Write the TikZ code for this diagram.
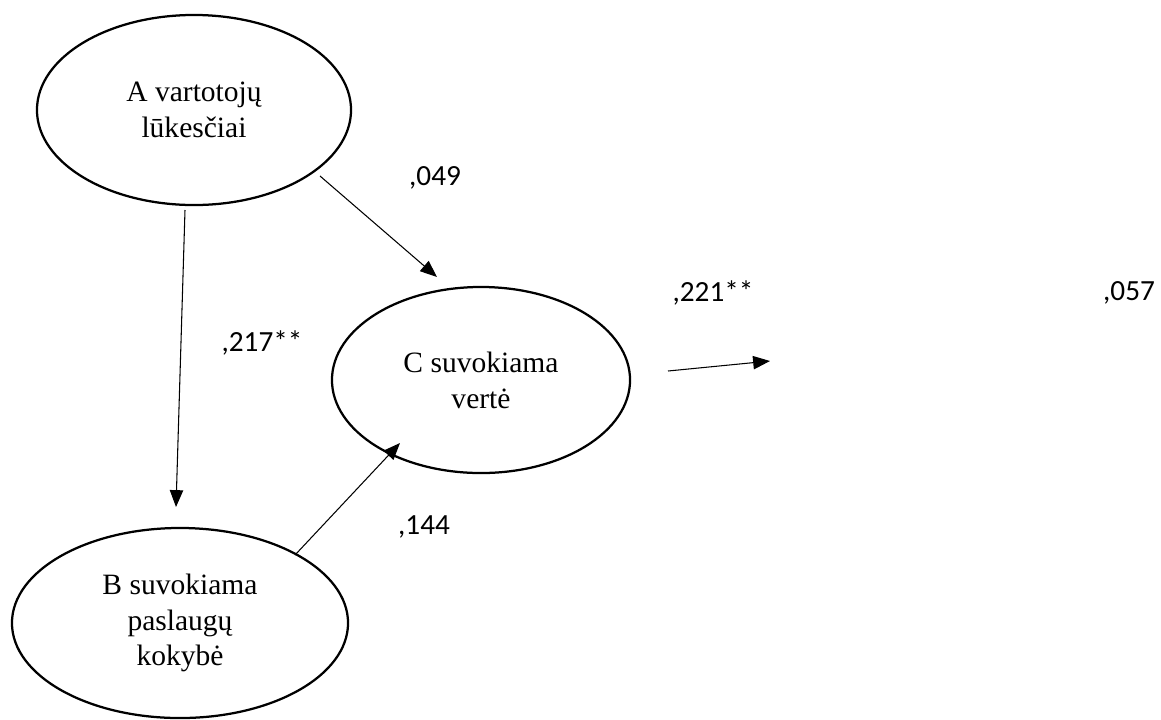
\documentclass[tikz,border=0pt]{standalone}
\usepackage{fontspec}
\setmainfont{Liberation Serif}
\newfontfamily\calfont{Carlito}
\usetikzlibrary{calc,shapes.geometric,arrows.meta}

\tikzset{
	latent/.style={draw, ellipse, line width=1.6pt, inner sep=0pt, align=center, font=\fontsize{21}{25.5}\selectfont},
	coef/.style={font=\calfont\fontsize{20.8}{23}\selectfont, inner sep=0pt},
	path/.style={line width=0.75pt, -{Triangle[length=12pt, width=9.5pt]}}
}

\begin{document}
\begin{tikzpicture}[x=0.025cm, y=-0.025cm]
			%%%%% START %%%%%
			
			\useasboundingbox (0, 0) rectangle (1161, 719);
			
			\node[latent, minimum width=7.85cm, minimum height=4.75cm] (A) at (194, 110) {A vartotojų\\lūkesčiai};
			\node[latent, minimum width=7.45cm, minimum height=4.65cm] (C) at (481, 380) {C suvokiama\\vertė};
			\node[latent, minimum width=8.4cm, minimum height=4.75cm] (B) at (180, 623) {B suvokiama\\paslaugų\\kokybė};
			
			\coordinate (out) at (770, 361);
			
			\node[coef] (l049) at (435, 178) {,049};
			\node[coef] (l217) at (262, 343) {,217**};
			\node[coef] (l144) at (424, 527) {,144};
			\node[coef] (l221) at (713, 293) {,221**};
			\node[coef] (l057) at (1129, 293) {,057};
			
			\draw[path] ($(A.center)+(-9, 100)$) -- ($(B.center)+(-4, -116)$);
			\draw[path] ($(A.center)+(126, 66)$) -- ($(C.center)+(-44, -103)$);
			\draw[path] ($(B.center)+(115, -68)$) -- ($(C.center)+(-81, 63)$);
			\draw[path] ($(C.center)+(187, -9)$) -- (out);
			
			%%%%% END %%%%%
\end{tikzpicture}
\end{document}
